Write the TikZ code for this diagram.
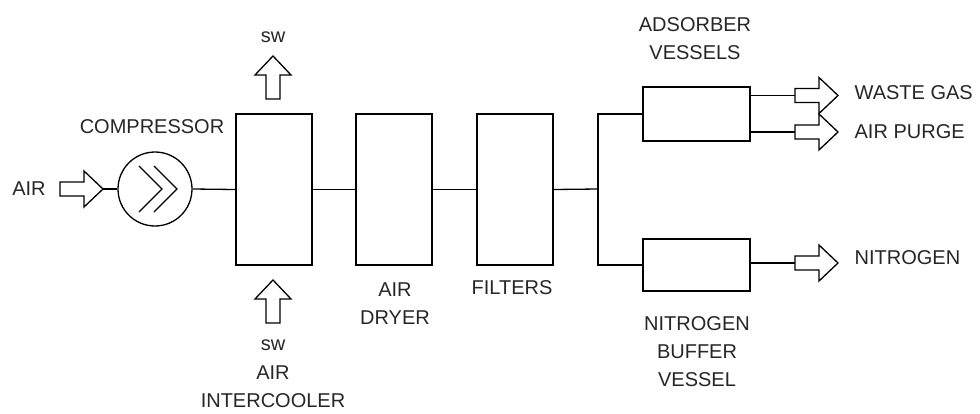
\documentclass[tikz,border=0pt]{standalone}
\usepackage{fontspec}
\setmainfont{Liberation Sans}
\begin{document}
\begin{tikzpicture}[x=1pt,y=-1pt,
  line width=1.3pt,
  lbl/.style={font=\fontsize{20}{28}\selectfont, inner sep=0pt, align=center, text=black!85},
  small/.style={font=\fontsize{20}{20}\selectfont, inner sep=0pt, text=black!85},
  vessel/.style={draw, rectangle, inner sep=0pt},
  barrow/.pic={
    \draw (0,-7) -- (24,-7) -- (24,-18) -- (43,0) -- (24,18) -- (24,7) -- (0,7) -- cycle;
    \coordinate (-tip) at (43,0);
    \coordinate (-tail) at (0,0);
  }
]
\useasboundingbox (0,0) rectangle (980,413);

% AIR inlet
\node[lbl] (airin) at (29,189) {AIR};
\pic (ainarrow) at (60,189) {barrow};

% compressor
\node[draw, circle, minimum size=74pt, inner sep=0pt] (comp) at (155,189) {};
\draw (139,166) -- (162,189) -- (139,212);
\draw (154,166) -- (177,189) -- (154,212);
\node[lbl] (complbl) at (152,127) {COMPRESSOR};

% boxes
\node[vessel, minimum width=76pt, minimum height=151pt] (ic) at (274,189.5) {};
\node[vessel, minimum width=76pt, minimum height=151pt] (dryer) at (394,189.5) {};
\node[vessel, minimum width=76pt, minimum height=151pt] (filt) at (515,189.5) {};
\node[vessel, minimum width=107pt, minimum height=54pt] (ads) at (696.5,114) {};
\node[vessel, minimum width=107pt, minimum height=52pt] (buf) at (696.5,265) {};

% seawater arrows
\pic[rotate=90] (swout) at (273,99) {barrow};
\pic[rotate=90] (swin) at (273,323) {barrow};
\node[small] (swtop) at (273,37) {sw};
\node[small] (swbot) at (273,345) {sw};

% labels
\node[lbl] (iclbl) at (273,387) {AIR\\INTERCOOLER};
\node[lbl] (drylbl) at (395,304) {AIR\\DRYER};
\node[lbl] (filtlbl) at (512,288) {FILTERS};
\node[lbl] (adslbl) at (695,39) {ADSORBER\\VESSELS};
\node[lbl] (buflbl) at (697,352) {NITROGEN\\BUFFER\\VESSEL};

% outlet arrows
\pic (wgarrow) at (795,95.5) {barrow};
\pic (aparrow) at (795,132) {barrow};
\pic (n2arrow) at (795,263) {barrow};
\node[lbl, anchor=west] (wglbl) at (854,93) {WASTE GAS};
\node[lbl, anchor=west] (aplbl) at (854,132) {AIR PURGE};
\node[lbl, anchor=west] (n2lbl) at (854,258) {NITROGEN};

% pipes
\coordinate (jn) at (598,189);
\draw (ainarrow-tip) -- (comp.west);
\draw (comp.east) -- (ic.west);
\draw (ic.east) -- (dryer.west);
\draw (dryer.east) -- (filt.west);
\draw (filt.east) -- (jn);
\draw (jn) |- (ads.west);
\draw (jn) |- (buf.west);
\draw (ads.east |- wgarrow-tail) -- (wgarrow-tail);
\draw (ads.east |- aparrow-tail) -- (aparrow-tail);
\draw (buf.east |- n2arrow-tail) -- (n2arrow-tail);
\end{tikzpicture}
\end{document}
